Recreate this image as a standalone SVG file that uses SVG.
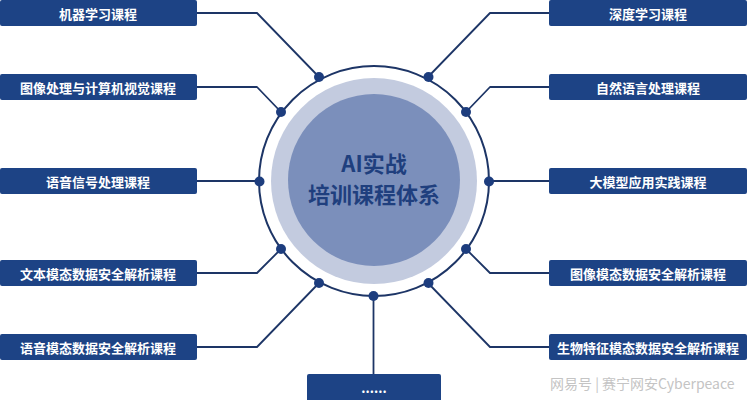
<svg xmlns="http://www.w3.org/2000/svg" width="747" height="400" viewBox="0 0 747 400">
<defs>
<style>
.box{fill:#1d4385}
.lbl{fill:#ffffff;font-family:"Noto Sans CJK SC","Liberation Sans",sans-serif;font-size:13px;font-weight:bold;text-anchor:middle;dominant-baseline:central}
.con{fill:none;stroke:#1d3566;stroke-width:1.8;stroke-linejoin:round}
.dot{fill:#1d3d7e}
.title{fill:#1f3f7e;font-family:"Noto Sans CJK SC","Liberation Sans",sans-serif;font-size:22px;font-weight:bold;text-anchor:middle;dominant-baseline:central}
</style>
</defs>
<rect width="747" height="400" fill="#ffffff"/>
<g id="connectors">
<path class="con" d="M197,13 H257 L319,77"/>
<path class="con" d="M197,87 H257 L281,112"/>
<path class="con" d="M197,181 H259"/>
<path class="con" d="M197,273 H257 L281,249"/>
<path class="con" d="M197,347 H257 L319,283"/>
<path class="con" d="M549,13 H490 L428,77"/>
<path class="con" d="M549,87 H490 L466,112"/>
<path class="con" d="M549,181 H489"/>
<path class="con" d="M549,273 H490 L466,249"/>
<path class="con" d="M549,347 H490 L428,283"/>
<path class="con" d="M373.5,296 V374"/>
</g>
<g id="center">
<circle cx="374" cy="181" r="115" fill="none" stroke="#1d3566" stroke-width="2"/>
<circle cx="374" cy="181" r="103" fill="#c3cbdf"/>
<circle cx="374" cy="180" r="86" fill="#7b8fbb"/>
<text class="title" x="374" y="162">AI实战</text>
<text class="title" x="374" y="193">培训课程体系</text>
<circle class="dot" cx="319" cy="77" r="5"/>
<circle class="dot" cx="428.5" cy="77" r="5"/>
<circle class="dot" cx="281" cy="112" r="5"/>
<circle class="dot" cx="466" cy="112" r="5"/>
<circle class="dot" cx="259.5" cy="181.5" r="5"/>
<circle class="dot" cx="489" cy="181.5" r="5"/>
<circle class="dot" cx="281" cy="249" r="5"/>
<circle class="dot" cx="466" cy="249" r="5"/>
<circle class="dot" cx="319" cy="283" r="5"/>
<circle class="dot" cx="428.5" cy="283" r="5"/>
<circle class="dot" cx="373.5" cy="296" r="5"/>
</g>
<g id="n1"><rect class="box" x="0" y="0" width="197" height="26" rx="2"/><text class="lbl" x="98" y="13">机器学习课程</text></g>
<g id="n2"><rect class="box" x="0" y="74" width="197" height="26" rx="2"/><text class="lbl" x="98" y="87">图像处理与计算机视觉课程</text></g>
<g id="n3"><rect class="box" x="0" y="168" width="197" height="26" rx="2"/><text class="lbl" x="98" y="181">语音信号处理课程</text></g>
<g id="n4"><rect class="box" x="0" y="260" width="197" height="26" rx="2"/><text class="lbl" x="98" y="273">文本模态数据安全解析课程</text></g>
<g id="n5"><rect class="box" x="0" y="334" width="197" height="26" rx="2"/><text class="lbl" x="98" y="347">语音模态数据安全解析课程</text></g>
<g id="n6"><rect class="box" x="549" y="0" width="198" height="26" rx="2"/><text class="lbl" x="648" y="13">深度学习课程</text></g>
<g id="n7"><rect class="box" x="549" y="74" width="198" height="26" rx="2"/><text class="lbl" x="648" y="87">自然语言处理课程</text></g>
<g id="n8"><rect class="box" x="549" y="168" width="198" height="26" rx="2"/><text class="lbl" x="648" y="181">大模型应用实践课程</text></g>
<g id="n9"><rect class="box" x="549" y="260" width="198" height="26" rx="2"/><text class="lbl" x="648" y="273">图像模态数据安全解析课程</text></g>
<g id="n10"><rect class="box" x="549" y="334" width="198" height="26" rx="2"/><text class="lbl" x="648" y="347">生物特征模态数据安全解析课程</text></g>
<g id="n11"><rect class="box" x="307" y="374" width="134" height="30" rx="2"/><text class="lbl" x="374" y="387">......</text></g>
<text x="550" y="383" fill="#c4c4c4" font-family="Noto Sans CJK SC, Liberation Sans, sans-serif" font-size="14" dominant-baseline="central">网易号 | 赛宁网安Cyberpeace</text>
</svg>
